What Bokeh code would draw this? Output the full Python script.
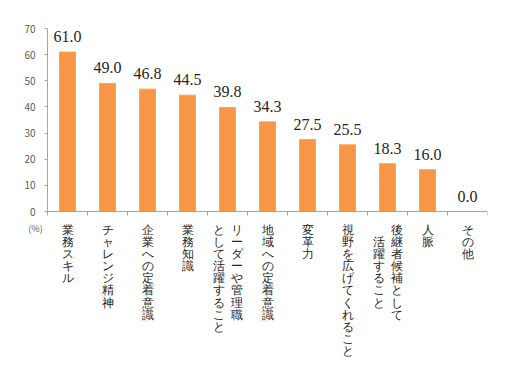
from bokeh.plotting import figure
from bokeh.models import ColumnDataSource, LabelSet, Label, Range1d, FixedTicker
from bokeh.embed import file_html
from bokeh.resources import INLINE

# ---- data ----
label_lines = [
    ["業務スキル"],
    ["チャレンジ精神"],
    ["企業への定着意識"],
    ["業務知識"],
    ["リーダーや管理職", "として活躍すること"],
    ["地域への定着意識"],
    ["変革力"],
    ["視野を広げてくれること"],
    ["後継者候補として", "　活躍すること"],
    ["人脈"],
    ["その他"],
]
values = [61.0, 49.0, 46.8, 44.5, 39.8, 34.3, 27.5, 25.5, 18.3, 16.0, 0.0]
y_ticks = [0, 10, 20, 30, 40, 50, 60, 70]
unit_label = "(%)"

FONT = "Noto Sans CJK JP"
n = len(values)
xs = list(range(n))

# frame geometry (pixels): the frame reaches beyond the axes, so the unit mark
# and the vertical category labels sit inside it
W, H = 512, 384
left, right, top, bottom = 23, 25, 10, 12
axis_x_px, top70_px, zero_y_px = 47, 28, 211
y_max = max(y_ticks)
px_per_cat = (W - right - axis_x_px) / n
x_start = -0.5 - (axis_x_px - left) / px_per_cat
px_per_unit = (zero_y_px - top70_px) / y_max
y_start = -((H - bottom) - zero_y_px) / px_per_unit
y_end = y_max + (top70_px - top) / px_per_unit

p = figure(width=W, height=H, output_backend="svg", toolbar_location=None,
           x_range=Range1d(x_start, n - 0.5), y_range=Range1d(y_start, y_end),
           min_border_left=left, min_border_right=right, min_border_top=top,
           min_border_bottom=bottom)
p.outline_line_color = None
p.xgrid.visible = False
p.ygrid.visible = False
p.background_fill_color = "white"
p.border_fill_color = "white"

src = ColumnDataSource(dict(x=xs, top=values,
                            txt=["%.1f" % v for v in values]))
p.vbar(x="x", top="top", width=0.4, source=src,
       fill_color="#F79646", line_color="#F5A462", line_width=1)

# value labels
p.add_layout(LabelSet(x="x", y="top", text="txt", source=src,
                      y_offset=10, text_align="center",
                      text_baseline="alphabetic", text_font=FONT,
                      text_font_size="16px", text_color="#262626"))

# vertical category labels (first line on the right, as in vertical writing)
lx, lt, lo = [], [], []
col_gap = 18
for i, lines in enumerate(label_lines):
    k = len(lines)
    for j, line in enumerate(lines):
        lx.append(i)
        lt.append("\n".join(line))
        lo.append(((k - 1) / 2 - j) * col_gap)
lsrc = ColumnDataSource(dict(x=lx, y=[0] * len(lx), t=lt, xo=lo))
p.add_layout(LabelSet(x="x", y="y", text="t", source=lsrc, x_offset="xo",
                      y_offset=-11, text_align="center", text_baseline="top",
                      text_font=FONT, text_font_size="12px",
                      text_line_height=0.87, text_color="#262626"))

# axes
ax = p.xaxis[0]
ax.fixed_location = 0
ax.bounds = (-0.5, n - 0.5)
ax.ticker = FixedTicker(ticks=[i - 0.5 for i in range(n + 1)])
ax.major_label_overrides = {i - 0.5: "" for i in range(n + 1)}
ax.major_label_text_font_size = "1px"
ax.major_label_standoff = 0
ax.axis_line_color = "#A6A6A6"
ax.major_tick_line_color = "#A6A6A6"
ax.major_tick_in = 0
ax.major_tick_out = 4
ax.minor_tick_line_color = None

ay = p.yaxis[0]
ay.fixed_location = -0.5
ay.bounds = (0, y_max)
ay.ticker = FixedTicker(ticks=y_ticks)
ay.axis_line_color = "#A6A6A6"
ay.major_tick_line_color = "#A6A6A6"
ay.major_tick_in = 0
ay.major_tick_out = 3
ay.minor_tick_line_color = None
ay.major_label_standoff = 9
ay.major_label_text_font = FONT
ay.major_label_text_font_size = "10px"
ay.major_label_text_color = "#595959"

p.add_layout(Label(x=-0.5, y=0, x_offset=-12, y_offset=-17,
                   text=unit_label, text_align="center", text_baseline="middle",
                   text_font=FONT, text_font_size="9px", text_color="#595959"))

open("out.html", "w").write(file_html(p, INLINE))
